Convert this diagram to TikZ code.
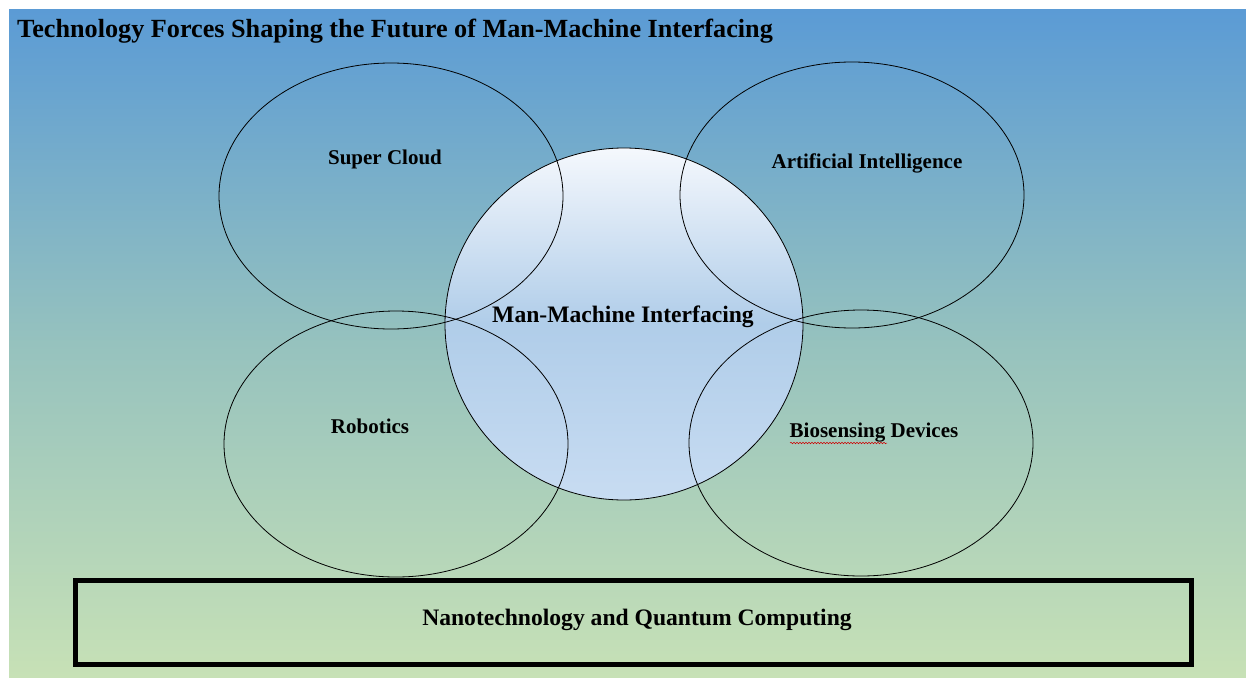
\documentclass[tikz,border=0pt]{standalone}
\usepackage{fontspec}
\setmainfont{Liberation Serif}
\usetikzlibrary{shapes.geometric,decorations.pathmorphing}
\definecolor{bgtop}{RGB}{91,155,213}
\definecolor{bgmid}{RGB}{150,194,190}
\definecolor{bgbot}{RGB}{199,225,182}
\definecolor{ctop}{RGB}{245,248,253}
\definecolor{cmid}{RGB}{176,205,233}
\definecolor{cbot}{RGB}{200,220,242}
\tikzset{
  force/.style={ellipse,draw=black,line width=0.8pt,minimum width=344pt,minimum height=266pt,inner sep=0pt},
  lbl/.style={font=\bfseries\fontsize{21}{23}\selectfont,inner sep=0pt},
  biglbl/.style={font=\bfseries\fontsize{23.6}{26}\selectfont,inner sep=0pt},
  hub/.style={ellipse,draw=black,line width=0.8pt,minimum width=358pt,minimum height=352pt,inner sep=0pt},
  base/.style={draw=black,line width=5pt,minimum width=1116pt,minimum height=84pt,inner sep=0pt}
}
\begin{document}
\begin{tikzpicture}[x=1pt,y=-1pt]
\useasboundingbox (0,0) rectangle (1246,677);
\fill[white] (0,0) rectangle (1246,677);
\shade[top color=bgtop,bottom color=bgbot,middle color=bgmid] (9,10) rectangle (1246,677);
% central hub (shaded)
\shade[top color=ctop,bottom color=cbot,middle color=cmid] (624,324) ellipse (179 and 176);
% surrounding forces
\node[force] (cloud) at (391,196) {};
\node[force] (ai) at (852,195) {};
\node[force] (robot) at (396,444) {};
\node[force] (bio) at (861,443) {};
\node[hub] (mmi) at (624,324) {};
% labels
\node[font=\bfseries\fontsize{26.2}{28}\selectfont,anchor=west,inner sep=0pt] (title) at (17,31) {Technology Forces Shaping the Future of Man-Machine Interfacing};
\node[lbl] (tcloud) at (385,159) {Super Cloud};
\node[lbl] (tai) at (867,163) {Artificial Intelligence};
\node[biglbl] (tmmi) at (623,317) {Man-Machine Interfacing};
\node[lbl] (trobot) at (370,426) {Robotics};
\node[lbl] (tbio) at (874,433) {Biosensing Devices};
\coordinate (w1) at (790,443);
\coordinate (w2) at (887,443);
\draw[red!80!black,line width=0.5pt,decorate,decoration={snake,amplitude=0.8pt,segment length=3pt}] (w1) -- (w2);
\node[base] (nano) at (633,622) {};
\node[biglbl] (tnano) at (637,620) {Nanotechnology and Quantum Computing};
\end{tikzpicture}
\end{document}
